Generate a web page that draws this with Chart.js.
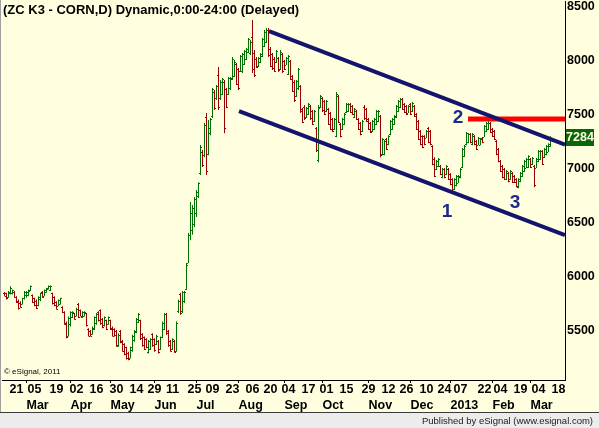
<!DOCTYPE html>
<html lang="en">
<head>
  <title>ZC K3 - CORN, daily</title>
  <meta charset="utf-8">
  <script src="https://cdn.jsdelivr.net/npm/chart.js@4.4.1/dist/chart.umd.min.js"></script>
  <style type="text/css">
    body { margin: 0; background: #ffffe0; }
    canvas { display: block; }
  </style>
</head>
<body>
<canvas id="corn-canvas" width="599" height="428"></canvas>
<script type="text/javascript">
// daily OHLC bars, one per trading day
var opens = [
  5850, 5845, 5810, 5850, 5845, 5860, 5815, 5780, 5760, 5750,
  5800, 5830, 5830, 5870, 5830, 5800, 5780, 5735, 5790, 5860,
  5825, 5860, 5885, 5875, 5845, 5810, 5765, 5730, 5750, 5720,
  5670, 5575, 5450, 5560, 5625, 5660, 5640, 5745, 5690, 5625,
  5640, 5660, 5515, 5500, 5470, 5520, 5570, 5675, 5690, 5610,
  5550, 5595, 5560, 5595, 5530, 5515, 5500, 5360, 5500, 5405,
  5375, 5345, 5295, 5250, 5320, 5410, 5490, 5580, 5595, 5470,
  5440, 5425, 5300, 5330, 5470, 5420, 5375, 5405, 5330, 5440,
  5520, 5655, 5495, 5405, 5330, 5405, 5310, 5680, 5840, 5680,
  5780,
  5884, 6131, 6388, 6437, 6487, 6586, 6744, 6961, 7159, 7129,
  7476, 7139, 7327, 7486, 7714, 7654, 7871, 7654, 7694, 7803,
  7734, 7694, 7744, 7832, 7862, 7970, 7921, 7906, 7901, 7970,
  8015, 8079, 8069, 8218, 8069, 8020, 7951, 7985, 8045, 8139,
  8178, 8287, 8109, 8060, 8020, 7985, 8025, 7926, 8060, 7995,
  7965, 7881, 7995, 7856, 7807, 7674, 7744, 7763, 7550, 7575,
  7476, 7506, 7580, 7530, 7442, 7377, 7080, 7575, 7654, 7624,
  7535, 7550, 7515, 7456, 7367, 7307, 7674, 7412, 7367, 7417,
  7525, 7535, 7600, 7580, 7476, 7535, 7461, 7422, 7347, 7575,
  7550, 7456, 7422, 7347, 7367, 7417, 7442, 7486, 7134, 7134,
  7273, 7228, 7322, 7367, 7417, 7476, 7535, 7570, 7644, 7600,
  7580, 7520, 7600, 7530, 7580, 7506, 7442, 7347, 7302, 7302,
  7288, 7377, 7347, 7209, 7094, 6996, 7021, 7026, 6922, 6996,
  6951, 6996, 6951, 6902, 6808, 6847, 6872, 6922, 7016, 7120,
  7228, 7243, 7322, 7228, 7302, 7258, 7223, 7223, 7288, 7297,
  7347, 7367, 7427, 7367, 7352, 7258, 7184, 7070, 7026, 6996,
  6902, 6961, 6902, 6961, 6932, 6907, 6827, 6882, 6932, 6976,
  7011, 7016, 7090, 7041, 7026, 7011, 7070, 7090, 7164, 7105,
  7134, 7159, 7209
];
var highs = [
  5858, 5852, 5867, 5913, 5883, 5867, 5820, 5790, 5774, 5805,
  5867, 5867, 5883, 5920, 5836, 5805, 5790, 5820, 5852, 5867,
  5883, 5898, 5920, 5920, 5852, 5820, 5774, 5790, 5805, 5727,
  5680, 5586, 5633, 5680, 5680, 5665, 5712, 5758, 5696, 5680,
  5680, 5665, 5524, 5508, 5540, 5633, 5665, 5680, 5696, 5618,
  5633, 5602, 5633, 5602, 5540, 5524, 5508, 5477, 5508, 5415,
  5384, 5352, 5305, 5352, 5462, 5508, 5618, 5665, 5602, 5477,
  5446, 5430, 5415, 5430, 5477, 5430, 5462, 5415, 5446, 5586,
  5665, 5665, 5508, 5415, 5430, 5415, 5586, 5790, 5852, 5867,
  5867,
  6127, 6404, 6692, 6665, 6738, 6802, 6876, 7219, 7173, 7424,
  7516, 7452, 7470, 7748, 7730, 7775, 7942, 7822, 7841, 7822,
  7748, 7849, 7849, 8035, 8007, 7978, 7933, 8053, 8072, 8100,
  8118, 8210, 8192, 8377, 8100, 8035, 8035, 8072, 8210, 8284,
  8303, 8303, 8127, 8072, 8035, 8100, 8035, 8100, 8072, 8007,
  8035, 8053, 8007, 7867, 7822, 7822, 7933, 7775, 7562, 7590,
  7571, 7609, 7590, 7543, 7543, 7386, 7590, 7683, 7664, 7636,
  7636, 7562, 7525, 7469, 7469, 7711, 7683, 7424, 7469, 7516,
  7609, 7609, 7609, 7590, 7562, 7543, 7469, 7433, 7452, 7590,
  7562, 7469, 7433, 7452, 7469, 7543, 7543, 7497, 7284, 7265,
  7284, 7311, 7452, 7469, 7497, 7590, 7636, 7655, 7655, 7609,
  7590, 7590, 7609, 7618, 7590, 7516, 7452, 7358, 7311, 7311,
  7358, 7386, 7358, 7218, 7107, 7080, 7099, 7034, 7006, 7006,
  7034, 7006, 6959, 6913, 6913, 6941, 6941, 7006, 7191, 7219,
  7339, 7330, 7330, 7330, 7311, 7265, 7293, 7284, 7293, 7405,
  7433, 7469, 7433, 7377, 7358, 7265, 7191, 7080, 7034, 7006,
  6988, 6969, 6988, 6969, 6941, 6913, 6913, 6969, 7034, 7080,
  7099, 7126, 7099, 7108, 7034, 7099, 7173, 7173, 7173, 7191,
  7219, 7237, 7300
];
var lows = [
  5820, 5790, 5805, 5835, 5835, 5805, 5758, 5696, 5712, 5743,
  5790, 5805, 5820, 5867, 5758, 5727, 5702, 5727, 5774, 5805,
  5820, 5852, 5883, 5867, 5743, 5727, 5696, 5727, 5743, 5665,
  5555, 5430, 5446, 5540, 5618, 5602, 5633, 5618, 5633, 5618,
  5633, 5540, 5446, 5446, 5462, 5508, 5555, 5586, 5555, 5524,
  5540, 5508, 5555, 5508, 5446, 5446, 5352, 5352, 5384, 5305,
  5274, 5233, 5227, 5243, 5305, 5399, 5477, 5571, 5415, 5352,
  5321, 5337, 5290, 5321, 5352, 5305, 5368, 5290, 5321, 5430,
  5508, 5462, 5352, 5305, 5321, 5296, 5305, 5665, 5649, 5665,
  5758,
  5877, 6127, 6339, 6388, 6460, 6552, 6728, 6941, 7015, 7107,
  6941, 7125, 7311, 7469, 7543, 7636, 7543, 7636, 7683, 7329,
  7562, 7683, 7730, 7822, 7849, 7775, 7730, 7895, 7886, 7960,
  8007, 8071, 8052, 7886, 7849, 7933, 7942, 7978, 8035, 8127,
  8164, 8035, 7942, 7914, 7895, 7978, 7895, 7914, 7886, 7914,
  7960, 7867, 7822, 7710, 7617, 7664, 7730, 7516, 7424, 7452,
  7469, 7497, 7452, 7405, 7433, 7154, 7061, 7562, 7525, 7497,
  7525, 7405, 7358, 7339, 7358, 7292, 7424, 7292, 7358, 7405,
  7516, 7525, 7516, 7497, 7469, 7452, 7358, 7311, 7339, 7452,
  7433, 7358, 7330, 7339, 7358, 7405, 7433, 7107, 7125, 7125,
  7173, 7218, 7311, 7358, 7405, 7469, 7525, 7562, 7543, 7516,
  7497, 7516, 7497, 7525, 7479, 7358, 7265, 7218, 7190, 7218,
  7284, 7237, 7218, 7033, 6923, 6988, 7016, 6941, 6913, 6913,
  6941, 6895, 6848, 6783, 6802, 6839, 6867, 6913, 7006, 7108,
  7218, 7237, 7237, 7218, 7218, 7173, 7218, 7218, 7237, 7293,
  7339, 7358, 7330, 7293, 7265, 7125, 7061, 6969, 6913, 6895,
  6895, 6876, 6895, 6867, 6867, 6829, 6820, 6876, 6923, 6969,
  7006, 7006, 7006, 7034, 6829, 7006, 7061, 7080, 7034, 7099,
  7125, 7154, 7201
];
var closes = [
  5825, 5800, 5860, 5900, 5880, 5815, 5770, 5710, 5720, 5800,
  5860, 5855, 5875, 5915, 5770, 5740, 5710, 5810, 5845, 5815,
  5875, 5895, 5915, 5910, 5755, 5740, 5705, 5785, 5800, 5670,
  5565, 5440, 5620, 5670, 5675, 5610, 5705, 5630, 5640, 5675,
  5675, 5550, 5455, 5455, 5530, 5625, 5655, 5595, 5570, 5535,
  5625, 5520, 5625, 5515, 5455, 5460, 5365, 5465, 5395, 5315,
  5285, 5245, 5240, 5345, 5450, 5500, 5610, 5655, 5430, 5365,
  5335, 5345, 5405, 5420, 5365, 5320, 5455, 5300, 5440, 5575,
  5655, 5475, 5365, 5315, 5420, 5305, 5575, 5780, 5665, 5855,
  5860,
  6111, 6388, 6586, 6635, 6724, 6783, 6867, 7199, 7030, 7407,
  6981, 7377, 7457, 7734, 7565, 7763, 7575, 7803, 7828, 7377,
  7575, 7838, 7843, 8020, 7990, 7788, 7744, 8040, 8060, 8090,
  8109, 8198, 8178, 7921, 7871, 7946, 8025, 8060, 8198, 8267,
  8287, 8050, 7955, 7931, 7906, 8090, 7911, 8085, 7901, 7926,
  8025, 8040, 7832, 7723, 7634, 7812, 7921, 7531, 7437, 7466,
  7565, 7600, 7466, 7417, 7535, 7169, 7565, 7674, 7540, 7511,
  7629, 7417, 7372, 7352, 7461, 7694, 7437, 7302, 7461, 7506,
  7600, 7600, 7525, 7506, 7555, 7461, 7367, 7322, 7442, 7466,
  7442, 7372, 7342, 7442, 7461, 7535, 7535, 7124, 7273, 7258,
  7184, 7302, 7442, 7461, 7491, 7580, 7629, 7649, 7555, 7525,
  7506, 7585, 7506, 7610, 7491, 7372, 7278, 7228, 7203, 7228,
  7352, 7248, 7228, 7045, 6937, 7070, 7090, 6951, 6996, 6927,
  7026, 6907, 6862, 6798, 6902, 6931, 6936, 6996, 7179, 7209,
  7332, 7322, 7243, 7322, 7228, 7184, 7288, 7278, 7243, 7397,
  7427, 7461, 7342, 7302, 7273, 7139, 7070, 6981, 6927, 6907,
  6981, 6887, 6981, 6877, 6877, 6837, 6907, 6961, 7026, 7070,
  7090, 7120, 7016, 7100, 6847, 7090, 7164, 7164, 7045, 7184,
  7209, 7228, 7284
];

// axis labels (bar index where each label sits)
var dayTickBars = [6, 15, 26, 36, 46, 56, 66, 75, 84, 95, 104, 114, 124, 133, 142,
                   152, 161, 171, 182, 192, 201, 211, 220, 228, 240, 248, 258, 267, 277];
var dayTickLabels = ["21", "05", "19", "02", "16", "30", "14", "29", "11", "25", "09", "23", "06", "20", "04",
                     "17", "01", "15", "29", "12", "26", "10", "24", "07", "22", "04", "19", "04", "18"];
var monthStartBars = [11, 33, 53, 75, 96, 117, 140, 159, 182, 203, 223, 244, 263];
var monthLabels = ["Mar", "Apr", "May", "Jun", "Jul", "Aug", "Sep", "Oct", "Nov", "Dec", "2013", "Feb", "Mar"];
var priceTicks = [5500, 6000, 6500, 7000, 7500, 8000, 8500];

// drawn studies: [bar, price]
var upperChannel = [[132.25, 8275], [280.25, 7224]];
var lowerChannel = [[117.25, 7534], [280.25, 6386]];
var resistanceLine = [[231.75, 7460], [280.25, 7460]];
var waveLabels = ["1", "2", "3"];
var waveBars = [221.25, 226.75, 255.25];
var wavePrices = [6599, 7469, 6682];

var chartTitle = "(ZC K3 - CORN,D) Dynamic,0:00-24:00 (Delayed)";
var copyrightText = "\u00a9 eSignal, 2011";
var footerText = "Published by eSignal (www.esignal.com)";

var UP_COLOR = "#007000";
var DOWN_COLOR = "#9a0000";
var CHANNEL_COLOR = "#14146e";
var WAVE_COLOR = "#1c2a8c";

function barColor(i) {
  return closes[i] >= opens[i] ? UP_COLOR : DOWN_COLOR;
}

function toPoints(pairs) {
  return pairs.map(function(p) { return {x: p[0], y: p[1]}; });
}

var rangeData = [];
var rangeColors = [];
for (var i = 0; i < closes.length; i++) {
  rangeData.push({x: i, y: [lows[i], highs[i]]});
  rangeColors.push(barColor(i));
}

// background, footer strip and left frame
var chartBackground = {
  id: "chartBackground",
  beforeDraw: function(chart) {
    var ctx = chart.ctx;
    ctx.save();
    ctx.fillStyle = "#ffffe0";
    ctx.fillRect(0, 0, chart.width, 413);
    ctx.fillStyle = "#ececec";
    ctx.fillRect(0, 413, chart.width, chart.height - 413);
    ctx.fillStyle = "#3c3c3c";
    ctx.fillRect(0, 412, chart.width, 1);
    ctx.fillStyle = "#a0a0a0";
    ctx.fillRect(0, 0, 1, 412);
    ctx.restore();
  }
};

// open tick on the left, close tick on the right of each bar
var openCloseTicks = {
  id: "openCloseTicks",
  afterDatasetDraw: function(chart, args) {
    if (args.index !== 0) return;
    var ctx = chart.ctx, xs = chart.scales.x, ys = chart.scales.y;
    ctx.save();
    for (var i = 0; i < closes.length; i++) {
      var px = Math.floor(xs.getPixelForValue(i) + 0.01);
      ctx.fillStyle = barColor(i);
      ctx.fillRect(px - 1, Math.round(ys.getPixelForValue(opens[i])), 1, 1);
      ctx.fillRect(px + 1, Math.round(ys.getPixelForValue(closes[i])), 1, 1);
    }
    ctx.restore();
  }
};

var chartText = {
  id: "chartText",
  afterDraw: function(chart) {
    var ctx = chart.ctx, xs = chart.scales.x, ys = chart.scales.y;
    var area = chart.chartArea;
    ctx.save();
    ctx.textBaseline = "middle";
    ctx.textAlign = "left";
    ctx.fillStyle = "#000";
    ctx.font = "bold 13px Arial";
    ctx.fillText(chartTitle, 3, 10);
    ctx.font = "8px Arial";
    ctx.fillText(copyrightText, 4, 372);
    ctx.textAlign = "right";
    ctx.fillStyle = "#202020";
    ctx.font = "9.5px Arial";
    ctx.fillText(footerText, 593, 421);

    ctx.textAlign = "center";
    ctx.fillStyle = WAVE_COLOR;
    ctx.font = "bold 19px Arial";
    for (var k = 0; k < waveLabels.length; k++) {
      ctx.fillText(waveLabels[k], xs.getPixelForValue(waveBars[k]), ys.getPixelForValue(wavePrices[k]));
    }

    // last price tag on the price axis
    var last = closes[closes.length - 1];
    var ty = Math.round(ys.getPixelForValue(last));
    ctx.fillStyle = "#0b660b";
    ctx.fillRect(area.right + 1, ty - 9, 28, 17);
    ctx.fillStyle = "#ffffe0";
    ctx.font = "bold 12.5px Arial";
    ctx.fillText(String(last), area.right + 15, ty);
    ctx.restore();
  }
};

var ctx = document.getElementById("corn-canvas").getContext("2d");
var cornChart = new Chart(ctx, {
  type: "bar",
  data: {
    datasets: [{
      label: "ZC K3",
      data: rangeData,
      backgroundColor: rangeColors,
      borderWidth: 0,
      barThickness: 1,
      inflateAmount: 0,
      order: 3
    }, {
      type: "line",
      label: "upper channel",
      data: toPoints(upperChannel),
      borderColor: CHANNEL_COLOR,
      borderWidth: 4,
      pointRadius: 0,
      clip: 0,
      order: 1
    }, {
      type: "line",
      label: "lower channel",
      data: toPoints(lowerChannel),
      borderColor: CHANNEL_COLOR,
      borderWidth: 4,
      pointRadius: 0,
      clip: 0,
      order: 1
    }, {
      type: "line",
      label: "resistance",
      data: toPoints(resistanceLine),
      borderColor: "#ff0000",
      borderWidth: 5,
      pointRadius: 0,
      clip: 0,
      order: 1
    }]
  },
  options: {
    responsive: false,
    devicePixelRatio: 1,
    animation: false,
    events: [],
    layout: { padding: { top: 1, left: 2, right: 0, bottom: 16 } },
    plugins: {
      legend: { display: false },
      tooltip: { enabled: false },
      title: { display: false }
    },
    scales: {
      x: {
        type: "linear",
        position: "bottom",
        min: -1.25,
        max: 280.25,
        bounds: "data",
        offset: false,
        afterBuildTicks: function(scale) {
          var all = dayTickBars.concat(monthStartBars).filter(function(v, i, a) { return a.indexOf(v) === i; });
          all.sort(function(a, b) { return a - b; });
          scale.ticks = all.map(function(v) { return {value: v}; });
        },
        afterFit: function(scale) {
          scale.height = 17;
          scale.paddingLeft = 0;
          scale.paddingRight = 0;
        },
        ticks: {
          autoSkip: false,
          minRotation: 0,
          maxRotation: 0,
          padding: 0,
          color: "#000",
          font: { family: "'Liberation Sans Narrow', 'Arial Narrow', Arial", size: 12.5, weight: "bold", lineHeight: 1 },
          callback: function(value) {
            var k = dayTickBars.indexOf(value);
            return k >= 0 ? dayTickLabels[k] : "";
          }
        },
        grid: {
          display: true,
          drawOnChartArea: false,
          drawTicks: true,
          tickLength: 3,
          offset: false,
          tickColor: function(context) {
            return context.tick && monthStartBars.indexOf(context.tick.value) >= 0 ? "#000" : "rgba(0,0,0,0)";
          }
        },
        border: { display: true, color: "#000", width: 1 }
      },
      x2: {
        type: "linear",
        position: "bottom",
        weight: 1,
        min: -1.25,
        max: 280.25,
        bounds: "data",
        offset: false,
        afterBuildTicks: function(scale) {
          scale.ticks = monthStartBars.map(function(v) { return {value: v}; });
        },
        afterFit: function(scale) {
          scale.height = 15;
          scale.paddingLeft = 0;
          scale.paddingRight = 0;
        },
        ticks: {
          autoSkip: false,
          minRotation: 0,
          maxRotation: 0,
          align: "start",
          padding: 2,
          color: "#000",
          font: { family: "Arial", size: 12.5, weight: "bold", lineHeight: 1 },
          callback: function(value) {
            var k = monthStartBars.indexOf(value);
            return k >= 0 ? monthLabels[k] : "";
          }
        },
        grid: { display: false, drawTicks: false },
        border: { display: false }
      },
      y: {
        type: "linear",
        position: "right",
        min: 5044,
        max: 8553,
        bounds: "data",
        afterBuildTicks: function(scale) {
          scale.ticks = priceTicks.map(function(v) { return {value: v}; });
        },
        afterFit: function(scale) {
          scale.width = 34;
          scale.paddingTop = 0;
          scale.paddingBottom = 0;
        },
        ticks: {
          padding: 2,
          color: "#000",
          font: { family: "Arial", size: 12.5, weight: "bold", lineHeight: 1 },
          callback: function(value) { return String(value); }
        },
        grid: { display: true, drawOnChartArea: false, drawTicks: false },
        border: { display: true, color: "#000", width: 1 }
      }
    }
  },
  plugins: [chartBackground, openCloseTicks, chartText]
});
</script>
</body>
</html>
